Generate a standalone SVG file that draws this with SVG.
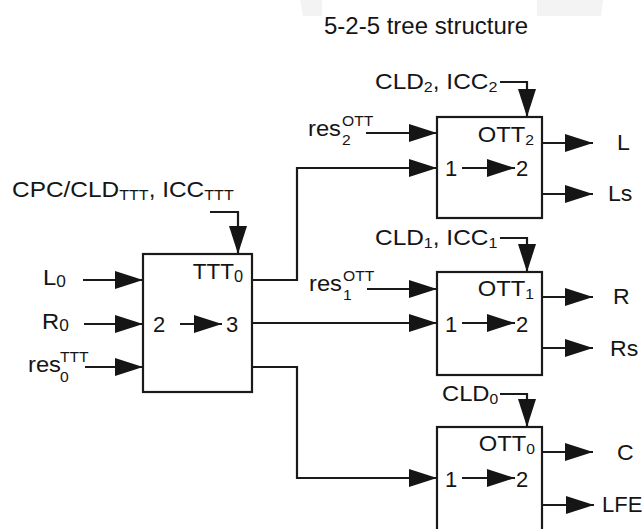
<svg xmlns="http://www.w3.org/2000/svg" width="643" height="529" viewBox="0 0 643 529">
<style>
text{font-family:"Liberation Sans",Arial,sans-serif;fill:#151515;}
.t{font-size:24px;}
.lb{font-size:22px;}
.s{font-size:14.5px;}
.s15{font-size:16px;}
.box{fill:#fff;stroke:#1a1a1a;stroke-width:2.2;}
.ar{fill:none;stroke:#1a1a1a;stroke-width:2.2;marker-end:url(#ah);}
.wm{fill:#f3f3f3;}
</style>
<defs>
<marker id="ah" markerWidth="28" markerHeight="18" refX="28" refY="9" orient="auto" markerUnits="userSpaceOnUse">
<path d="M0,0 L28,9 L0,18 z" fill="#151515"/>
</marker>
</defs>
<rect width="643" height="529" fill="#fff"/>
<polygon class="wm" points="300,0 322,0 322,16 303,16"/>
<polygon class="wm" points="537,0 603,0 601,16 537,16"/>
<g id="title"><text class="t" x="324" y="34">5-2-5 tree structure</text></g>

<g id="connectors">
<line class="ar" x1="83" y1="280" x2="143" y2="280"/>
<line class="ar" x1="84" y1="324" x2="143" y2="324"/>
<line class="ar" x1="85" y1="367" x2="143" y2="367"/>
<polyline class="ar" points="210,212 238,212 238,254"/>
<polyline class="ar" points="252,280 297,280 297,168 437,168"/>
<line class="ar" x1="252" y1="323" x2="437" y2="323"/>
<polyline class="ar" points="252,367 297,367 297,478 437,478"/>
<line class="ar" x1="366" y1="133" x2="437" y2="133"/>
<polyline class="ar" points="500,82 527,82 527,117"/>
<line class="ar" x1="542" y1="143" x2="593" y2="143"/>
<line class="ar" x1="542" y1="194" x2="593" y2="194"/>
<line class="ar" x1="367" y1="289" x2="437" y2="289"/>
<polyline class="ar" points="500,238 527,238 527,272"/>
<line class="ar" x1="542" y1="297" x2="593" y2="297"/>
<line class="ar" x1="542" y1="348" x2="593" y2="348"/>
<polyline class="ar" points="500,394 527,394 527,427"/>
<line class="ar" x1="542" y1="452" x2="593" y2="452"/>
<line class="ar" x1="542" y1="505" x2="594" y2="505"/>
</g>

<g id="ttt0">
<rect class="box" x="143" y="254" width="109" height="138"/>
<text class="lb" text-anchor="end" transform="translate(243,279) scale(1.02,1)">TTT<tspan class="s15" dy="3">0</tspan></text>
<text class="lb" x="153" y="332">2</text>
<line class="ar" x1="180" y1="324" x2="222" y2="324"/>
<text class="lb" x="226" y="332">3</text>
</g>

<g id="ott2">
<rect class="box" x="437" y="117" width="105" height="101"/>
<text class="lb" text-anchor="end" transform="translate(534,142) scale(1.08,1)">OTT<tspan class="s" dy="3">2</tspan></text>
<text class="lb" x="445" y="176">1</text>
<line class="ar" x1="462" y1="168" x2="515" y2="168"/>
<text class="lb" x="516" y="176">2</text>
</g>

<g id="ott1">
<rect class="box" x="437" y="272" width="105" height="103"/>
<text class="lb" text-anchor="end" transform="translate(534,296) scale(1.08,1)">OTT<tspan class="s" dy="3">1</tspan></text>
<text class="lb" x="445" y="332">1</text>
<line class="ar" x1="462" y1="323" x2="515" y2="323"/>
<text class="lb" x="516" y="332">2</text>
</g>

<g id="ott0">
<rect class="box" x="437" y="427" width="105" height="120"/>
<text class="lb" text-anchor="end" transform="translate(535,451) scale(1.08,1)">OTT<tspan class="s" dy="3">0</tspan></text>
<text class="lb" x="445" y="487">1</text>
<line class="ar" x1="462" y1="478" x2="515" y2="478"/>
<text class="lb" x="516" y="487">2</text>
</g>

<g id="labels">
<text class="lb" transform="translate(12,197) scale(1.11,1)">CPC/CLD<tspan class="s" dy="3">TTT</tspan><tspan dy="-3">, ICC</tspan><tspan class="s" dy="3">TTT</tspan></text>
<text class="lb" transform="translate(43,285) scale(1.08,1)">L<tspan class="s15" dy="2">0</tspan></text>
<text class="lb" transform="translate(42,329) scale(1.08,1)">R<tspan class="s15" dy="2">0</tspan></text>
<text class="lb" transform="translate(28,372) scale(1.08,1)">res</text>
<text class="s" transform="translate(60,362) scale(1.08,1)">TTT</text>
<text class="s" transform="translate(60,382) scale(1.08,1)">0</text>

<text class="lb" transform="translate(375,89) scale(1.11,1)">CLD<tspan class="s" dy="3">2</tspan><tspan dy="-3">, ICC</tspan><tspan class="s" dy="3">2</tspan></text>
<text class="lb" transform="translate(308,136) scale(1.08,1)">res</text>
<text class="s" transform="translate(342,126) scale(1.08,1)">OTT</text>
<text class="s" transform="translate(342,145) scale(1.08,1)">2</text>

<text class="lb" transform="translate(375,245) scale(1.11,1)">CLD<tspan class="s" dy="3">1</tspan><tspan dy="-3">, ICC</tspan><tspan class="s" dy="3">1</tspan></text>
<text class="lb" transform="translate(309,291) scale(1.08,1)">res</text>
<text class="s" transform="translate(343,281) scale(1.08,1)">OTT</text>
<text class="s" transform="translate(343,300) scale(1.08,1)">1</text>

<text class="lb" transform="translate(442,401) scale(1.08,1)">CLD<tspan class="s" dy="3">0</tspan></text>

<text class="lb" transform="translate(617,150) scale(1.05,1)">L</text>
<text class="lb" transform="translate(608,201) scale(1.05,1)">Ls</text>
<text class="lb" transform="translate(613,304) scale(1.05,1)">R</text>
<text class="lb" transform="translate(610,356) scale(1.05,1)">Rs</text>
<text class="lb" transform="translate(617,460) scale(1.05,1)">C</text>
<text class="lb" x="602" y="512">LFE</text>
</g>
</svg>
